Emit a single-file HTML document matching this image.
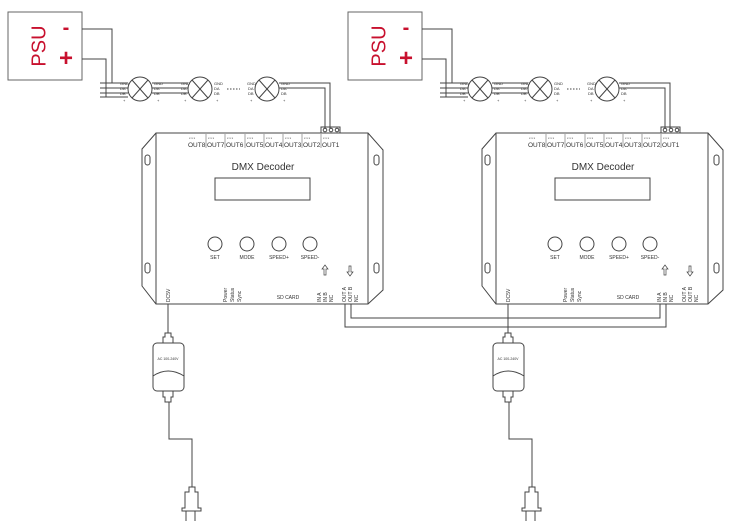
<!DOCTYPE html>
<html><head><meta charset="utf-8"><style>
html,body{margin:0;padding:0;background:#fff;width:730px;height:532px;overflow:hidden}
svg{display:block}
text{font-family:"Liberation Sans",sans-serif;fill:#333}
</style></head><body>
<svg width="730" height="532" viewBox="0 0 730 532" xmlns="http://www.w3.org/2000/svg">
<defs>
<g id="unit" fill="none" stroke="#444" stroke-width="1">
  <!-- PSU -->
  <rect x="8" y="12" width="74" height="68" stroke="#666"/>
  <text x="40" y="46" font-size="20" fill="#c8102e" stroke="none" transform="rotate(-90 40 46)" text-anchor="middle" dominant-baseline="middle" style="fill:#c8102e">PSU</text>
  <text x="66" y="34" font-size="20" stroke="none" text-anchor="middle" style="fill:#c8102e;font-weight:bold">-</text>
  <text x="66" y="66" font-size="24" stroke="none" text-anchor="middle" style="fill:#c8102e;font-weight:bold">+</text>
  <!-- PSU wires -->
  <polyline points="82,29 112,29 112,83"/>
  <polyline points="82,59 106,59 106,97"/>
  <line x1="100" y1="83" x2="128" y2="83"/>
  <line x1="100" y1="88" x2="128" y2="88"/>
  <line x1="100" y1="93" x2="128" y2="93"/>
  <line x1="100" y1="97" x2="128" y2="97"/>
  <line x1="152" y1="83" x2="188" y2="83"/>
  <line x1="152" y1="88" x2="188" y2="88"/>
  <line x1="152" y1="93" x2="188" y2="93"/>
  <!-- lamps -->
  <g>
    <circle cx="140" cy="89" r="12"/><line x1="132" y1="80" x2="148" y2="98"/><line x1="148" y1="80" x2="132" y2="98"/>
    <circle cx="200" cy="89" r="12"/><line x1="192" y1="80" x2="208" y2="98"/><line x1="208" y1="80" x2="192" y2="98"/>
    <circle cx="267" cy="89" r="12"/><line x1="259" y1="80" x2="275" y2="98"/><line x1="275" y1="80" x2="259" y2="98"/>
  </g>
  <g stroke="none" font-size="4">
    <text x="120" y="85">GND</text><text x="120" y="90">DA</text><text x="120" y="95">DB</text><text x="123" y="102">+</text>
    <text x="154" y="85">GND</text><text x="154" y="90">DA</text><text x="154" y="95">DB</text><text x="157" y="102">+</text>
    <text x="181" y="85">GND</text><text x="181" y="90">DA</text><text x="181" y="95">DB</text><text x="184" y="102">+</text>
    <text x="214" y="85">GND</text><text x="214" y="90">DA</text><text x="214" y="95">DB</text><text x="216" y="102">+</text>
    <text x="247" y="85">GND</text><text x="248" y="90">DA</text><text x="248" y="95">DB</text><text x="250" y="102">+</text>
    <text x="281" y="85">GND</text><text x="281" y="90">DA</text><text x="281" y="95">DB</text><text x="283" y="102">+</text>
  </g>
  <line x1="227" y1="89" x2="240" y2="89" stroke-dasharray="1.5,1.5"/>
  <polyline points="279,83 330,83 330,128"/>
  <polyline points="279,88 325,88 325,128"/>
  <!-- connector -->
  <rect x="321" y="127" width="19" height="6"/>
  <circle cx="325" cy="130" r="1.8"/><circle cx="331" cy="130" r="1.8"/><circle cx="337" cy="130" r="1.8"/>
  <!-- body -->
  <polygon points="156,133 368,133 383,150 383,290 368,304 156,304 142,286 142,149"/>
  <line x1="156" y1="133" x2="156" y2="304"/>
  <line x1="368" y1="133" x2="368" y2="304"/>
  <rect x="145" y="155" width="5" height="10" rx="2.5"/>
  <rect x="145" y="263" width="5" height="10" rx="2.5"/>
  <rect x="374" y="155" width="5" height="10" rx="2.5"/>
  <rect x="374" y="263" width="5" height="10" rx="2.5"/>
  <!-- OUT labels -->
  <g stroke="#666" stroke-width="0.6">
    <line x1="206" y1="134" x2="206" y2="148"/><line x1="225" y1="134" x2="225" y2="148"/>
    <line x1="245" y1="134" x2="245" y2="148"/><line x1="264" y1="134" x2="264" y2="148"/>
    <line x1="283" y1="134" x2="283" y2="148"/><line x1="302" y1="134" x2="302" y2="148"/>
    <line x1="321" y1="134" x2="321" y2="148"/>
  </g>
  <g stroke="none" font-size="6.5">
    <text x="188" y="147">OUT8</text><text x="207" y="147">OUT7</text><text x="226" y="147">OUT6</text>
    <text x="246" y="147">OUT5</text><text x="265" y="147">OUT4</text><text x="284" y="147">OUT3</text>
    <text x="303" y="147">OUT2</text><text x="322" y="147">OUT1</text>
  </g>
  <g stroke="none" font-size="3" fill="#777">
    <text x="189" y="139">x  x  x</text><text x="208" y="139">x  x  x</text><text x="227" y="139">x  x  x</text>
    <text x="247" y="139">x  x  x</text><text x="266" y="139">x  x  x</text><text x="285" y="139">x  x  x</text>
    <text x="304" y="139">x  x  x</text><text x="323" y="139">x  x  x</text>
  </g>
  <text x="263" y="170" font-size="10" stroke="none" text-anchor="middle">DMX Decoder</text>
  <rect x="215" y="178" width="95" height="22"/>
  <circle cx="215" cy="244" r="7"/><circle cx="247" cy="244" r="7"/><circle cx="279" cy="244" r="7"/><circle cx="310" cy="244" r="7"/>
  <g stroke="none" font-size="5" text-anchor="middle">
    <text x="215" y="259">SET</text><text x="247" y="259">MODE</text><text x="279" y="259">SPEED+</text><text x="310" y="259">SPEED-</text>
    <text x="288" y="299">SD CARD</text>
  </g>
  <!-- arrows -->
  <path d="M325,265 l-3,4 h2 v6 h2 v-6 h2 z" stroke-width="0.7"/>
  <path d="M350,276 l-3,-4 h2 v-6 h2 v6 h2 z" stroke-width="0.7"/>
  <g stroke="none" font-size="5">
    <text transform="translate(170,302) rotate(-90)">DC5V</text>
    <text transform="translate(227,302) rotate(-90)">Power</text>
    <text transform="translate(234,302) rotate(-90)">Status</text>
    <text transform="translate(241,302) rotate(-90)">Sync</text>
    <text transform="translate(321,302) rotate(-90)">IN A</text>
    <text transform="translate(327,302) rotate(-90)">IN B</text>
    <text transform="translate(333,302) rotate(-90)">NC</text>
    <text transform="translate(346,302) rotate(-90)">OUT A</text>
    <text transform="translate(352,302) rotate(-90)">OUT B</text>
    <text transform="translate(358,302) rotate(-90)">NC</text>
  </g>
  <!-- adapter -->
  <line x1="168" y1="304" x2="168" y2="333"/>
  <path d="M165,333 h6 v4 h2 v6 h-10 v-6 h2 z"/>
  <rect x="153" y="343" width="31" height="48" rx="4"/>
  <path d="M153,376 q15,-10 31,0"/>
  <text x="168" y="360" font-size="3.5" stroke="none" text-anchor="middle">AC 100-240V</text>
  <path d="M163,391 h10 v6 h-2 v5 h-6 v-5 h-2 z"/>
  <polyline points="169,402 169,439 192,439 192,487"/>
  <path d="M189,487 h6 v5 h3 v16 h3 v3 h-19 v-3 h3 v-16 h4 z"/>
  <line x1="186" y1="511" x2="186" y2="521"/><line x1="195" y1="511" x2="195" y2="521"/>
</g>
</defs>
<use href="#unit"/>
<use href="#unit" transform="translate(340,0)"/>
<!-- link between decoders -->
<g fill="none" stroke="#444" stroke-width="1">
  <polyline points="345,304 345,327 666,327 666,304"/>
  <polyline points="351,304 351,318 660,318 660,304"/>
</g>
</svg>
</body></html>
